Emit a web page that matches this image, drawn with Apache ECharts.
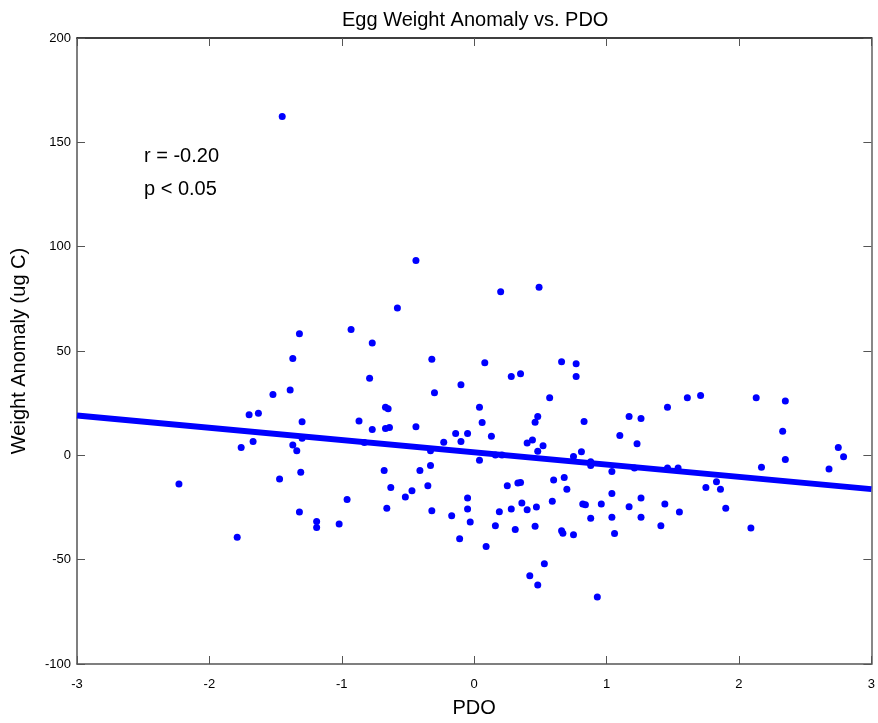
<!DOCTYPE html>
<html>
<head>
<meta charset="utf-8">
<script src="https://cdn.jsdelivr.net/npm/echarts@6/dist/echarts.min.js"></script>
<style>
html,body{margin:0;padding:0;background:#fff;}
#chart{width:878px;height:723px;}
</style>
</head>
<body>
<div id="chart"></div>
<script>
// PDO index values (x) for each egg sample
const pdo = [
  -2.23, -1.79, -1.76, -1.70, -1.67, -1.63, -1.52, -1.47, -1.39, -1.37,
  -1.32, -1.30, -1.37, -1.34, -1.30, -1.31, -1.32, -1.19, -1.19, -1.02,
  -1.45,
  -0.44, 0.20, 0.49, -0.58, -0.93, -0.77, -0.32, 0.08, 0.66, 0.77,
  -0.79, 0.28, 0.35, 0.77, -0.30, -0.10, 0.57, -0.67, -0.65, 0.04,
  -0.87, 0.06, 0.48, 0.46, 0.83, -0.77, -0.67, -0.64, -0.44, -0.14,
  -0.05, -0.10, -0.23, 0.13, 0.40, 0.44, 0.52, 0.48, -0.83, -0.33,
  0.04, 0.16, 0.21, 0.81, 0.75, 0.88, 0.88, -0.68, -0.41, -0.33,
  -0.63, -0.35, -0.52, -0.47, -0.96, -0.66, -0.32, -0.05, -0.05, -0.17,
  -0.03, -0.11, 0.09, 0.25, 0.33, 0.35, 0.19, 0.28, 0.36, 0.40,
  0.47, 0.16, 0.31, 0.46, 0.59, 0.60, 0.68, 0.70, 0.66, 0.67,
  0.75, 0.82, 0.84, 0.88, 0.96, 0.53, 0.42, 0.48, 0.93,
  1.61, 1.71, 2.13, 2.35, 1.46, 1.17, 1.26, 1.10, 1.23, 2.33,
  2.35, 2.75, 2.79, 2.68, 2.17, 1.04, 1.21, 1.46, 1.54, 1.83,
  1.75, 1.86, 1.90, 2.09, 1.04, 1.17, 1.26, 1.44, 1.55, 1.04,
  1.26, 1.41, 1.06
];
// Egg weight anomaly values (y, ug C)
const weight = [
  -13.7, -39.2, 3.8, 19.4, 6.6, 20.2, 29.2, -11.3, 31.3, 46.4,
  58.3, 16.1, 5.0, 2.2, 8.2, -8.1, -27.2, -31.7, -34.6, -32.9,
  162.4,
  93.4, 78.4, 80.5, 70.6, 60.3, 53.8, 46.1, 44.4, 44.8, 43.9,
  37.0, 37.8, 39.1, 37.8, 30.0, 33.8, 27.6, 23.1, 22.3, 23.1,
  16.5, 15.7, 18.6, 15.9, 16.2, 12.4, 12.9, 13.3, 13.7, 10.5,
  10.5, 6.6, 6.3, 9.2, 5.9, 7.4, 4.6, 2.0, 6.1, 2.2,
  -2.3, 0.1, 0.1, 1.7, -0.6, -3.1, -4.9, -7.3, -7.3, -4.9,
  -15.4, -14.6, -20.0, -17.0, -21.2, -25.3, -26.5, -20.4, -25.7, -29.0,
  -31.9, -40.0, -43.7, -14.6, -13.3, -13.0, -27.0, -25.7, -22.8, -26.1,
  -24.8, -33.8, -35.6, -34.0, -22.0, -11.8, -10.6, -16.2, -36.2, -37.3,
  -38.0, -23.3, -23.7, -30.1, -23.3, -51.9, -57.7, -62.1, -67.9,
  27.6, 28.7, 27.6, 26.0, 23.0, 18.6, 17.6, 9.5, 5.5, 11.6,
  -2.0, 3.7, -0.7, -6.5, -5.7, -7.8, -6.1, -6.1, -6.1, -12.7,
  -15.4, -16.2, -25.3, -34.8, -18.3, -24.7, -20.4, -23.3, -27.2, -29.7,
  -29.7, -33.8, -37.5
];
// Regression line endpoints
const fitX = [-3, 3];
const fitY = [19.1, -16.2];
// Axis ticks
const xTicks = [-3, -2, -1, 0, 1, 2, 3];
const yTicks = [-100, -50, 0, 50, 100, 150, 200];
const titleText = 'Egg Weight Anomaly vs. PDO';
const statsText = ['r = -0.20', 'p < 0.05'];

const FONT = '"Liberation Sans", Arial, Helvetica, sans-serif';
const scatterData = pdo.map((x, i) => [x, weight[i]]);
const fitData = fitX.map((x, i) => [x, fitY[i]]);

const chart = echarts.init(document.getElementById('chart'), null, {renderer: 'canvas'});
const baseAxisLine = (c, w) => ({show: true, onZero: false, lineStyle: {color: c, width: w}});
chart.setOption({
  animation: false,
  backgroundColor: '#fff',
  title: {
    text: titleText,
    left: 337, top: 5,
    textStyle: {fontFamily: FONT, fontSize: 20, fontWeight: 'normal', color: '#000'}
  },
  grid: {left: 77, right: 6, top: 38, bottom: 59, containLabel: false},
  xAxis: [{
    type: 'value', min: xTicks[0], max: xTicks[xTicks.length - 1], interval: 1,
    position: 'bottom',
    name: 'PDO', nameLocation: 'middle', nameGap: 34,
    nameTextStyle: {fontFamily: FONT, fontSize: 20, color: '#000'},
    axisLine: baseAxisLine('#555', 1.5),
    axisTick: {show: true, inside: true, length: 8, lineStyle: {color: '#555'}},
    axisLabel: {margin: 14, fontFamily: FONT, fontSize: 13, color: '#000',
      formatter: v => String(v)},
    splitLine: {show: false}
  }, {
    type: 'value', min: xTicks[0], max: xTicks[xTicks.length - 1], interval: 1,
    position: 'top',
    axisLine: baseAxisLine('#000', 1.5),
    axisTick: {show: true, inside: true, length: 8, lineStyle: {color: '#555'}},
    axisLabel: {show: false},
    splitLine: {show: false}
  }],
  yAxis: [{
    type: 'value', min: yTicks[0], max: yTicks[yTicks.length - 1], interval: 50,
    position: 'left',
    name: 'Weight Anomaly (ug C)', nameLocation: 'middle', nameGap: 48,
    nameTextStyle: {fontFamily: FONT, fontSize: 20, color: '#000'},
    axisLine: baseAxisLine('#555', 1.5),
    axisTick: {show: true, inside: true, length: 8, lineStyle: {color: '#555'}},
    axisLabel: {margin: 6, fontFamily: FONT, fontSize: 13, color: '#000'},
    splitLine: {show: false}
  }, {
    type: 'value', min: yTicks[0], max: yTicks[yTicks.length - 1], interval: 50,
    position: 'right',
    axisLine: baseAxisLine('#888', 2),
    axisTick: {show: true, inside: true, length: 8, lineStyle: {color: '#555'}},
    axisLabel: {show: false},
    splitLine: {show: false}
  }],
  graphic: [
    {type: 'text', x: 144, y: 156, style: {text: statsText[0], fontFamily: FONT, fontSize: 20, fill: '#000', verticalAlign: 'middle'}},
    {type: 'text', x: 144, y: 189, style: {text: statsText[1], fontFamily: FONT, fontSize: 20, fill: '#000', verticalAlign: 'middle'}}
  ],
  series: [{
    type: 'scatter',
    xAxisIndex: 0, yAxisIndex: 0,
    data: scatterData,
    symbol: 'circle', symbolSize: 7,
    itemStyle: {color: '#0000ff', opacity: 1},
    silent: true
  }, {
    type: 'line',
    xAxisIndex: 0, yAxisIndex: 0,
    data: fitData,
    showSymbol: false, symbol: 'none',
    lineStyle: {color: '#0000ff', width: 6},
    silent: true, z: 3
  }]
});
</script>
</body>
</html>
